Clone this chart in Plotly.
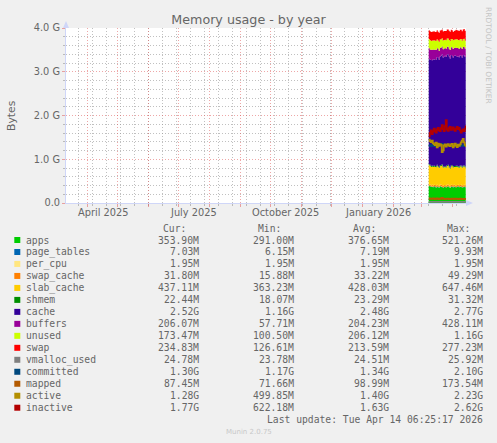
import plotly.graph_objects as go
import pandas as pd

# ---------------- data (MiB per day) ----------------
start_day = "2026-03-08"
n_days = 38
dates = pd.date_range(start_day, periods=n_days, freq="D")

apps = [395, 388, 372, 381, 366, 390, 377, 359, 384, 371, 363, 392, 380, 368, 355, 374, 386, 362, 379,
        391, 370, 358, 383, 376, 365, 387, 372, 360, 378, 389, 367, 375, 382, 361, 370, 384, 366, 353.9]
page_tables = [7.2, 7.1, 7.3, 7.0, 7.4, 7.2, 7.1, 7.3, 7.5, 7.2, 7.0, 7.1, 7.3, 7.6, 7.2, 7.1, 7.0, 7.2, 7.4,
               7.3, 7.1, 6.9, 7.2, 7.3, 7.1, 7.0, 7.2, 7.4, 7.2, 7.0, 7.1, 7.3, 7.2, 7.1, 7.3, 7.2, 7.1, 7.03]
per_cpu = [1.95] * 38
swap_cache = [28, 35, 31, 38, 33, 29, 36, 41, 34, 30, 27, 33, 37, 44, 35, 31, 29, 34, 38,
              36, 32, 28, 35, 39, 33, 30, 34, 37, 33, 29, 31, 36, 34, 32, 35, 33, 31, 31.8]
slab_cache = [452, 441, 433, 428, 436, 425, 419, 430, 444, 432, 418, 424, 437, 458, 429, 421, 414, 426, 440,
              433, 422, 411, 428, 439, 425, 416, 430, 442, 427, 409, 418, 433, 429, 424, 438, 431, 426, 437.11]
shmem = [24.0, 23.5, 23.0, 22.8, 23.6, 23.1, 22.7, 23.4, 24.2, 23.3, 22.6, 22.9, 23.5, 25.1, 23.2, 22.8, 22.5, 23.0, 23.7,
         23.4, 22.9, 22.4, 23.1, 23.6, 23.0, 22.6, 23.2, 23.8, 23.1, 22.3, 22.7, 23.3, 23.1, 22.9, 23.4, 23.0, 22.7, 22.44]
cache = [2470, 2455, 2480, 2462, 2495, 2478, 2506, 2490, 2521, 2534, 2512, 2548, 2560, 2575, 2553, 2570, 2588, 2562, 2579,
         2596, 2571, 2555, 2583, 2566, 2548, 2574, 2590, 2569, 2552, 2578, 2561, 2583, 2570, 2556, 2589, 2575, 2560, 2580]
buffers = [248, 241, 236, 244, 229, 233, 221, 226, 212, 205, 214, 198, 190, 186, 197, 189, 180, 193, 185,
           176, 191, 199, 184, 193, 204, 188, 181, 195, 203, 189, 198, 186, 194, 201, 187, 196, 203, 206.07]
unused = [215, 222, 208, 219, 211, 224, 206, 217, 203, 198, 210, 201, 196, 188, 205, 199, 191, 203, 194,
          186, 200, 209, 195, 190, 202, 196, 187, 199, 205, 192, 201, 188, 196, 190, 184, 193, 180, 173.47]
swap = [205, 208, 210, 206, 209, 211, 207, 212, 209, 206, 211, 208, 213, 210, 207, 212, 209, 214, 211,
        208, 213, 216, 212, 209, 196, 201, 214, 218, 215, 221, 217, 224, 220, 226, 223, 229, 231, 234.83]

vmalloc_used = [24.3, 24.3, 24.4, 24.4, 24.3, 24.5, 24.4, 24.4, 24.5, 24.5, 24.4, 24.5, 24.6, 24.5, 24.5, 24.6, 24.5, 24.5, 24.6,
                24.6, 24.5, 24.5, 24.6, 24.6, 24.5, 24.6, 24.6, 24.7, 24.6, 24.6, 24.7, 24.7, 24.6, 24.7, 24.7, 24.8, 24.7, 24.78]
committed = [1340, 1352, 1333, 1347, 1361, 1338, 1329, 1355, 1372, 1344, 1336, 1349, 1365, 1381, 1357, 1342, 1335, 1351, 1368,
             1359, 1340, 1331, 1346, 1362, 1349, 1337, 1353, 1370, 1356, 1341, 1334, 1350, 1363, 1345, 1338, 1352, 1341, 1331]
mapped = [105, 98, 102, 96, 110, 101, 94, 99, 108, 97, 92, 100, 106, 118, 99, 95, 91, 98, 104,
          101, 94, 90, 97, 103, 99, 93, 96, 101, 98, 92, 94, 99, 96, 93, 97, 95, 90, 87.45]
active = [1480, 1450, 1425, 1460, 1400, 1380, 1355, 1410, 1300, 1390, 1340, 1380, 1360, 1190, 1230, 1350, 1370, 1320, 1360,
          1380, 1345, 1330, 1370, 1385, 1300, 1340, 1390, 1350, 1310, 1365, 1340, 1370, 1420, 1460, 1500, 1420, 1360, 1311]
inactive = [1560, 1640, 1700, 1610, 1670, 1740, 1690, 1650, 1720, 1760, 1700, 1680, 1750, 1820, 1730, 1680, 1800, 1940, 1720,
            1690, 1750, 1780, 1710, 1740, 1770, 1720, 1690, 1740, 1780, 1730, 1760, 1700, 1650, 1690, 1720, 1680, 1740, 1812]

names = ["apps", "page_tables", "per_cpu", "swap_cache", "slab_cache", "shmem", "cache", "buffers",
         "unused", "swap", "vmalloc_used", "committed", "mapped", "active", "inactive"]
cur_txt = ["353.90M", "7.03M", "1.95M", "31.80M", "437.11M", "22.44M", "2.52G", "206.07M",
           "173.47M", "234.83M", "24.78M", "1.30G", "87.45M", "1.28G", "1.77G"]
min_txt = ["291.00M", "6.15M", "1.95M", "15.88M", "363.23M", "18.07M", "1.16G", "57.71M",
           "100.50M", "126.61M", "23.78M", "1.17G", "71.66M", "499.85M", "622.18M"]
avg_txt = ["376.65M", "7.19M", "1.95M", "33.22M", "428.03M", "23.29M", "2.48G", "204.23M",
           "206.12M", "213.59M", "24.51M", "1.34G", "98.99M", "1.40G", "1.63G"]
max_txt = ["521.26M", "9.93M", "1.95M", "49.29M", "647.46M", "31.32M", "2.77G", "428.11M",
           "1.16G", "277.23M", "25.92M", "2.10G", "173.54M", "2.23G", "2.62G"]
colors = ["#00CC00", "#0066B3", "#FFE680", "#FF8000", "#FFCC00", "#008F00", "#330099", "#990099",
          "#CCFF00", "#FF0000", "#808080", "#00487D", "#B35A00", "#B38F00", "#B30000"]

y_tick_vals = [0, 1, 2, 3, 4]
y_tick_text = ["0.0", "1.0 G", "2.0 G", "3.0 G", "4.0 G"]
x_labels = ["April 2025", "July 2025", "October 2025", "January 2026"]
x_label_pos = ["2025-04-16", "2025-07-16", "2025-10-16", "2026-01-16"]
month_starts = ["2025-04-01", "2025-05-01", "2025-06-01", "2025-07-01", "2025-08-01", "2025-09-01",
                "2025-10-01", "2025-11-01", "2025-12-01", "2026-01-01", "2026-02-01", "2026-03-01", "2026-04-01"]
minor_x = ["2025-03-23", "2025-04-06", "2025-04-20", "2025-05-04", "2025-05-18", "2025-06-01", "2025-06-15",
           "2025-06-29", "2025-07-13", "2025-07-27", "2025-08-10", "2025-08-24", "2025-09-07", "2025-09-21",
           "2025-10-05", "2025-10-19", "2025-11-02", "2025-11-16", "2025-11-30", "2025-12-14", "2025-12-28",
           "2026-01-11", "2026-01-25", "2026-02-08", "2026-02-22", "2026-03-08", "2026-03-22", "2026-04-05"]
minor_y = [0.2, 0.4, 0.6, 0.8, 1.2, 1.4, 1.6, 1.8, 2.2, 2.4, 2.6, 2.8, 3.2, 3.4, 3.6, 3.8]

area_series = [apps, page_tables, per_cpu, swap_cache, slab_cache, shmem, cache, buffers, unused, swap]
line_series = [vmalloc_used, committed, mapped, active, inactive]

# ---------------- figure ----------------
W, H = 497, 443
L, R, T, B = 66, 31, 28, 240
PW, PH = W - L - R, H - T - B

def px(x):
    return (x - L) / PW

def py(y):
    return (H - B - y) / PH

fig = go.Figure()
for i, s in enumerate(area_series):
    fig.add_trace(go.Scatter(x=dates, y=[v / 1024 for v in s], name=names[i], stackgroup="mem",
                             mode="lines", line=dict(width=0, shape="hv", color=colors[i]),
                             fillcolor=colors[i], hoverinfo="skip"))
for j, s in enumerate(line_series):
    i = len(area_series) + j
    fig.add_trace(go.Scatter(x=dates, y=[v / 1024 for v in s], name=names[i], mode="lines",
                             line=dict(width=1.8, shape="hv", color=colors[i]), hoverinfo="skip"))

grid_col = "rgba(150,150,150,0.6)"
mgrid_col = "rgba(222,79,79,0.5)"
axis_col = "#CFD6F8"
font_col = "#666666"
sans = "DejaVu Sans"
mono = "DejaVu Sans Mono"

fig.update_layout(
    width=W, height=H, margin=dict(l=L, r=R, t=T, b=B, pad=0),
    paper_bgcolor="#F0F0F0", plot_bgcolor="#FFFFFF", showlegend=False,
    title=dict(text="Memory usage - by year", x=0.5, xref="container", xanchor="center",
               y=1 - 19.5 / H, yref="container", yanchor="middle",
               font=dict(family=sans, size=12.7, color=font_col)),
    xaxis=dict(type="date", range=["2025-03-10 06:25", "2026-04-14 06:25"],
               tickvals=month_starts, showticklabels=False, ticks="outside", ticklen=3,
               tickcolor=mgrid_col, showgrid=True, gridcolor=mgrid_col, griddash="1px,2px", gridwidth=1,
               minor=dict(tickvals=minor_x, showgrid=True, gridcolor=grid_col, griddash="1px,2px",
                          ticks="outside", ticklen=2, tickcolor=grid_col),
               showline=True, linecolor=axis_col, linewidth=1, zeroline=False, fixedrange=True),
    yaxis=dict(range=[0, 4], tickvals=y_tick_vals, ticktext=y_tick_text, ticks="outside", ticklen=3,
               tickcolor=mgrid_col, tickfont=dict(family=sans, size=9.8, color=font_col),
               showgrid=True, gridcolor=mgrid_col, griddash="1px,2px", gridwidth=1,
               minor=dict(tickvals=minor_y, showgrid=True, gridcolor=grid_col, griddash="1px,2px",
                          ticks="outside", ticklen=2, tickcolor=grid_col),
               showline=True, linecolor=axis_col, linewidth=1, zeroline=False, fixedrange=True),
)

ann = []
# x axis labels
for lab, pos in zip(x_labels, x_label_pos):
    ann.append(dict(text=lab, x=pos, xref="x", y=py(212.5), yref="paper", showarrow=False,
                    xanchor="center", yanchor="middle", font=dict(family=sans, size=9.8, color=font_col)))
# vertical axis title
ann.append(dict(text="Bytes", x=px(11), y=py(115), xref="paper", yref="paper", showarrow=False,
                textangle=-90, xanchor="center", yanchor="middle", font=dict(family=sans, size=10.8, color=font_col)))
# rrdtool watermark
ann.append(dict(text="RRDTOOL / TOBI OETIKER", x=px(488), y=py(55), xref="paper", yref="paper",
                showarrow=False, textangle=90, xanchor="center", yanchor="middle",
                font=dict(family=sans, size=7.5, color="#C4C4C4")))

def txt(t, x, y, anchor, fam=mono, size=9.7, col=font_col):
    ann.append(dict(text=t, x=px(x), y=py(y), xref="paper", yref="paper", showarrow=False,
                    xanchor=anchor, yanchor="middle", borderpad=0, borderwidth=0,
                    font=dict(family=fam, size=size, color=col)))

value_right = [198.5, 293.5, 388.5, 483]
headers = ["Cur:", "Min:", "Avg:", "Max:"]
for h, xr in zip(headers, value_right):
    txt(h, xr - 12.7, 228, "right")

shapes = []
for i, nm in enumerate(names):
    yc = 240 + 11.98 * i
    txt(nm, 25.5, yc, "left")
    for col_vals, xr in zip([cur_txt, min_txt, avg_txt, max_txt], value_right):
        txt(col_vals[i], xr, yc, "right")
    shapes.append(dict(type="rect", xref="paper", yref="paper", x0=px(14.3), x1=px(20.3),
                       y0=py(yc + 3), y1=py(yc - 3), fillcolor=colors[i], line=dict(width=0)))

txt("Last update: Tue Apr 14 06:25:17 2026", 483, 419.7, "right")
txt("Munin 2.0.75", 248.5, 432, "center", fam=sans, size=7, col="#C8C8C8")

# axis arrows
shapes.append(dict(type="path", xref="paper", yref="paper",
                   path=f"M {px(63)} {py(28)} L {px(69)} {py(28)} L {px(66)} {py(21)} Z",
                   fillcolor=axis_col, line=dict(width=0)))
shapes.append(dict(type="path", xref="paper", yref="paper",
                   path=f"M {px(466)} {py(200)} L {px(466)} {py(206)} L {px(473)} {py(203)} Z",
                   fillcolor=axis_col, line=dict(width=0)))

fig.update_layout(annotations=ann, shapes=shapes)
fig.write_html("out.html", config={"displayModeBar": False},
               post_script="document.body.style.margin='0px';")
